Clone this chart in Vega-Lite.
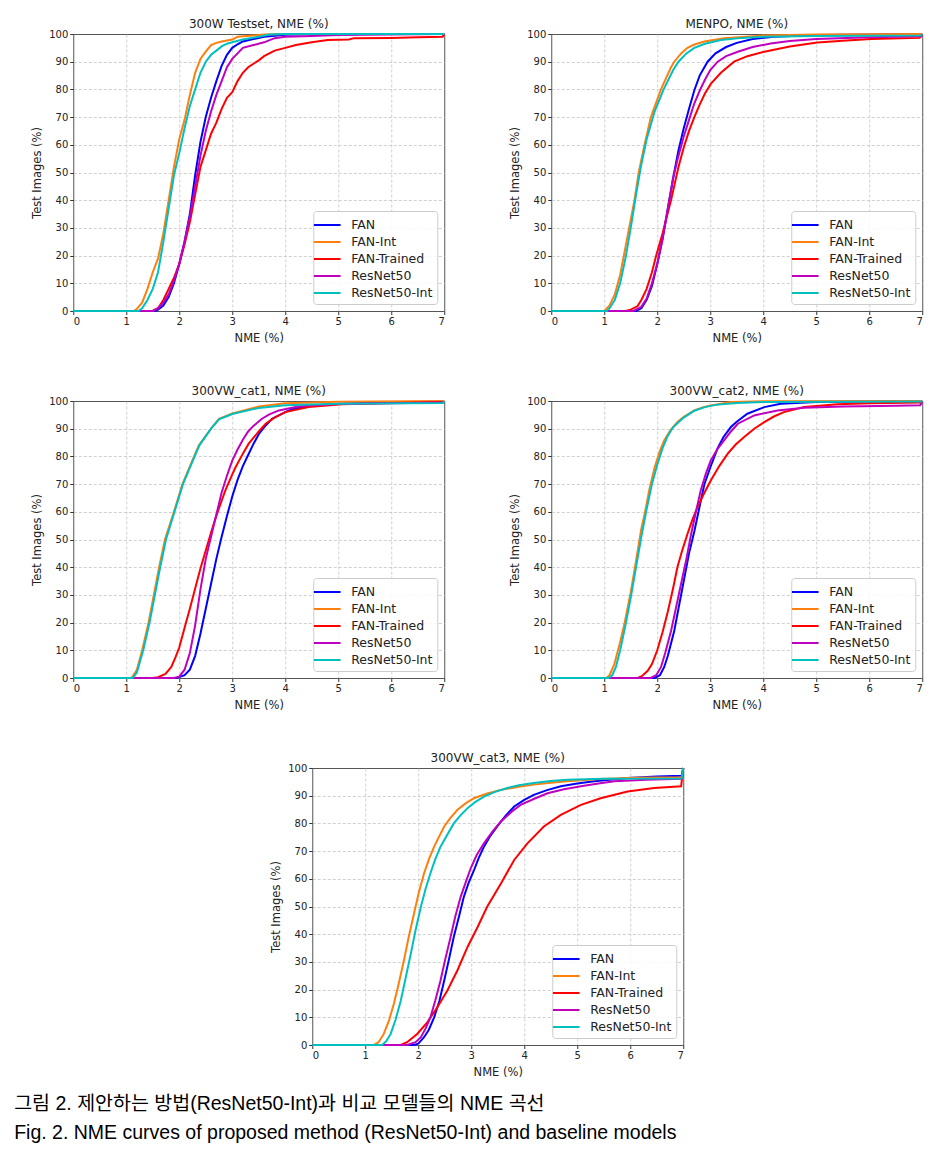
{
"$schema": "https://vega.github.io/schema/vega-lite/v6.json",
"padding": {"left": 14, "top": 17, "right": 5, "bottom": 5},
"background": "white",
"config": {
 "font": "DejaVu Sans",
 "view": {"stroke": "#555555", "strokeWidth": 1},
 "axis": {"labelFont": "DejaVu Sans", "labelFontSize": 10, "labelColor": "#222222", "titleFont": "DejaVu Sans", "titleFontSize": 11.5, "titleFontWeight": "normal", "titleColor": "#222222", "domain": false, "tickColor": "#333333", "tickSize": 3.5, "labelPadding": 2, "gridColor": "#c4c4c4", "gridDash": [3, 2], "gridWidth": 0.8},
 "axisX": {"titlePadding": 6},
 "axisY": {"titlePadding": 6},
 "title": {"font": "DejaVu Sans", "fontSize": 12, "fontWeight": "normal", "color": "#222222", "offset": -2},
 "legend": {"orient": "bottom-right", "offset": 7, "padding": 4, "strokeColor": "#cccccc", "fillColor": "rgba(255,255,255,0.85)", "cornerRadius": 3, "symbolType": "M-1.48,0L1.48,0", "symbolSize": 324, "symbolStrokeWidth": 2, "labelFont": "DejaVu Sans", "labelFontSize": 12.5, "labelColor": "#222222", "labelOffset": 14, "rowPadding": 0},
 "line": {"strokeWidth": 2}
},
"title": {"text": ["그림 2. 제안하는 방법(ResNet50-Int)과 비교 모델들의 NME 곡선", "Fig. 2. NME curves of proposed method (ResNet50-Int) and baseline models"], "orient": "bottom", "anchor": "start", "font": "Liberation Sans, Noto Sans CJK KR", "fontSize": 19.5, "fontWeight": "normal", "color": "#000000", "lineHeight": 29, "offset": 16, "dx": -17},
"data": {"values": [
{"panel":"300W","model":"FAN","nme":0,"images":0},{"panel":"300W","model":"FAN","nme":1.55,"images":0},{"panel":"300W","model":"FAN","nme":1.6,"images":0.5},{"panel":"300W","model":"FAN","nme":1.7,"images":2},{"panel":"300W","model":"FAN","nme":1.8,"images":5},{"panel":"300W","model":"FAN","nme":1.9,"images":10},{"panel":"300W","model":"FAN","nme":2.0,"images":17},{"panel":"300W","model":"FAN","nme":2.1,"images":25},{"panel":"300W","model":"FAN","nme":2.2,"images":35},{"panel":"300W","model":"FAN","nme":2.3,"images":49},{"panel":"300W","model":"FAN","nme":2.4,"images":61},{"panel":"300W","model":"FAN","nme":2.5,"images":70},{"panel":"300W","model":"FAN","nme":2.6,"images":77},{"panel":"300W","model":"FAN","nme":2.7,"images":83},{"panel":"300W","model":"FAN","nme":2.8,"images":88.5},{"panel":"300W","model":"FAN","nme":2.9,"images":92.5},{"panel":"300W","model":"FAN","nme":3.0,"images":95},{"panel":"300W","model":"FAN","nme":3.1,"images":96.3},{"panel":"300W","model":"FAN","nme":3.2,"images":97.3},{"panel":"300W","model":"FAN","nme":3.4,"images":98.2},{"panel":"300W","model":"FAN","nme":3.6,"images":99},{"panel":"300W","model":"FAN","nme":4.0,"images":99.7},{"panel":"300W","model":"FAN","nme":4.5,"images":100},{"panel":"300W","model":"FAN","nme":7,"images":100},
{"panel":"300W","model":"FAN-Int","nme":0,"images":0},{"panel":"300W","model":"FAN-Int","nme":1.15,"images":0},{"panel":"300W","model":"FAN-Int","nme":1.2,"images":0.8},{"panel":"300W","model":"FAN-Int","nme":1.3,"images":3},{"panel":"300W","model":"FAN-Int","nme":1.4,"images":8},{"panel":"300W","model":"FAN-Int","nme":1.5,"images":14},{"panel":"300W","model":"FAN-Int","nme":1.6,"images":19},{"panel":"300W","model":"FAN-Int","nme":1.7,"images":28},{"panel":"300W","model":"FAN-Int","nme":1.8,"images":40},{"panel":"300W","model":"FAN-Int","nme":1.9,"images":52},{"panel":"300W","model":"FAN-Int","nme":2.0,"images":62},{"panel":"300W","model":"FAN-Int","nme":2.1,"images":69},{"panel":"300W","model":"FAN-Int","nme":2.2,"images":78},{"panel":"300W","model":"FAN-Int","nme":2.3,"images":86},{"panel":"300W","model":"FAN-Int","nme":2.4,"images":91},{"panel":"300W","model":"FAN-Int","nme":2.5,"images":93.6},{"panel":"300W","model":"FAN-Int","nme":2.6,"images":96},{"panel":"300W","model":"FAN-Int","nme":2.7,"images":96.8},{"panel":"300W","model":"FAN-Int","nme":2.8,"images":97.3},{"panel":"300W","model":"FAN-Int","nme":3.0,"images":98},{"panel":"300W","model":"FAN-Int","nme":3.1,"images":99},{"panel":"300W","model":"FAN-Int","nme":3.6,"images":99.8},{"panel":"300W","model":"FAN-Int","nme":4.0,"images":100},{"panel":"300W","model":"FAN-Int","nme":7,"images":100},
{"panel":"300W","model":"FAN-Trained","nme":0,"images":0},{"panel":"300W","model":"FAN-Trained","nme":1.5,"images":0},{"panel":"300W","model":"FAN-Trained","nme":1.6,"images":1},{"panel":"300W","model":"FAN-Trained","nme":1.7,"images":4},{"panel":"300W","model":"FAN-Trained","nme":1.8,"images":8},{"panel":"300W","model":"FAN-Trained","nme":1.9,"images":12},{"panel":"300W","model":"FAN-Trained","nme":2.0,"images":17},{"panel":"300W","model":"FAN-Trained","nme":2.1,"images":24},{"panel":"300W","model":"FAN-Trained","nme":2.2,"images":32},{"panel":"300W","model":"FAN-Trained","nme":2.3,"images":42},{"panel":"300W","model":"FAN-Trained","nme":2.4,"images":52},{"panel":"300W","model":"FAN-Trained","nme":2.5,"images":58},{"panel":"300W","model":"FAN-Trained","nme":2.6,"images":64},{"panel":"300W","model":"FAN-Trained","nme":2.7,"images":68},{"panel":"300W","model":"FAN-Trained","nme":2.8,"images":73},{"panel":"300W","model":"FAN-Trained","nme":2.9,"images":77},{"panel":"300W","model":"FAN-Trained","nme":3.0,"images":79},{"panel":"300W","model":"FAN-Trained","nme":3.1,"images":83},{"panel":"300W","model":"FAN-Trained","nme":3.2,"images":86},{"panel":"300W","model":"FAN-Trained","nme":3.3,"images":88},{"panel":"300W","model":"FAN-Trained","nme":3.5,"images":90.5},{"panel":"300W","model":"FAN-Trained","nme":3.6,"images":92},{"panel":"300W","model":"FAN-Trained","nme":3.8,"images":94},{"panel":"300W","model":"FAN-Trained","nme":4.0,"images":95},{"panel":"300W","model":"FAN-Trained","nme":4.2,"images":96},{"panel":"300W","model":"FAN-Trained","nme":4.5,"images":97},{"panel":"300W","model":"FAN-Trained","nme":4.8,"images":97.8},{"panel":"300W","model":"FAN-Trained","nme":5.2,"images":98},{"panel":"300W","model":"FAN-Trained","nme":5.3,"images":98.5},{"panel":"300W","model":"FAN-Trained","nme":6.0,"images":98.6},{"panel":"300W","model":"FAN-Trained","nme":6.5,"images":98.8},{"panel":"300W","model":"FAN-Trained","nme":6.97,"images":99},{"panel":"300W","model":"FAN-Trained","nme":7,"images":100},
{"panel":"300W","model":"ResNet50","nme":0,"images":0},{"panel":"300W","model":"ResNet50","nme":1.5,"images":0},{"panel":"300W","model":"ResNet50","nme":1.6,"images":1},{"panel":"300W","model":"ResNet50","nme":1.7,"images":3},{"panel":"300W","model":"ResNet50","nme":1.8,"images":6},{"panel":"300W","model":"ResNet50","nme":1.9,"images":11},{"panel":"300W","model":"ResNet50","nme":2.0,"images":17},{"panel":"300W","model":"ResNet50","nme":2.1,"images":25},{"panel":"300W","model":"ResNet50","nme":2.2,"images":34},{"panel":"300W","model":"ResNet50","nme":2.3,"images":45},{"panel":"300W","model":"ResNet50","nme":2.4,"images":56},{"panel":"300W","model":"ResNet50","nme":2.5,"images":65},{"panel":"300W","model":"ResNet50","nme":2.6,"images":72},{"panel":"300W","model":"ResNet50","nme":2.7,"images":78},{"panel":"300W","model":"ResNet50","nme":2.8,"images":83},{"panel":"300W","model":"ResNet50","nme":2.9,"images":88},{"panel":"300W","model":"ResNet50","nme":3.0,"images":91},{"panel":"300W","model":"ResNet50","nme":3.1,"images":93},{"panel":"300W","model":"ResNet50","nme":3.2,"images":95},{"panel":"300W","model":"ResNet50","nme":3.4,"images":96},{"panel":"300W","model":"ResNet50","nme":3.6,"images":97},{"panel":"300W","model":"ResNet50","nme":3.8,"images":98.5},{"panel":"300W","model":"ResNet50","nme":4.0,"images":99},{"panel":"300W","model":"ResNet50","nme":4.5,"images":99.3},{"panel":"300W","model":"ResNet50","nme":5.0,"images":99.6},{"panel":"300W","model":"ResNet50","nme":7,"images":100},
{"panel":"300W","model":"ResNet50-Int","nme":0,"images":0},{"panel":"300W","model":"ResNet50-Int","nme":1.23,"images":0},{"panel":"300W","model":"ResNet50-Int","nme":1.3,"images":1},{"panel":"300W","model":"ResNet50-Int","nme":1.4,"images":4},{"panel":"300W","model":"ResNet50-Int","nme":1.5,"images":8},{"panel":"300W","model":"ResNet50-Int","nme":1.6,"images":14},{"panel":"300W","model":"ResNet50-Int","nme":1.7,"images":25},{"panel":"300W","model":"ResNet50-Int","nme":1.8,"images":37},{"panel":"300W","model":"ResNet50-Int","nme":1.9,"images":49},{"panel":"300W","model":"ResNet50-Int","nme":2.0,"images":57},{"panel":"300W","model":"ResNet50-Int","nme":2.1,"images":66},{"panel":"300W","model":"ResNet50-Int","nme":2.2,"images":74},{"panel":"300W","model":"ResNet50-Int","nme":2.3,"images":80},{"panel":"300W","model":"ResNet50-Int","nme":2.4,"images":86},{"panel":"300W","model":"ResNet50-Int","nme":2.5,"images":90},{"panel":"300W","model":"ResNet50-Int","nme":2.6,"images":92.5},{"panel":"300W","model":"ResNet50-Int","nme":2.7,"images":94},{"panel":"300W","model":"ResNet50-Int","nme":2.8,"images":95.5},{"panel":"300W","model":"ResNet50-Int","nme":2.9,"images":96.5},{"panel":"300W","model":"ResNet50-Int","nme":3.0,"images":97},{"panel":"300W","model":"ResNet50-Int","nme":3.2,"images":98},{"panel":"300W","model":"ResNet50-Int","nme":3.5,"images":99},{"panel":"300W","model":"ResNet50-Int","nme":3.7,"images":99.8},{"panel":"300W","model":"ResNet50-Int","nme":4.0,"images":100},{"panel":"300W","model":"ResNet50-Int","nme":7,"images":100},

{"panel":"MENPO","model":"FAN","nme":0,"images":0},{"panel":"MENPO","model":"FAN","nme":1.6,"images":0},{"panel":"MENPO","model":"FAN","nme":1.7,"images":1},{"panel":"MENPO","model":"FAN","nme":1.8,"images":4},{"panel":"MENPO","model":"FAN","nme":1.9,"images":9},{"panel":"MENPO","model":"FAN","nme":2.0,"images":17},{"panel":"MENPO","model":"FAN","nme":2.1,"images":26},{"panel":"MENPO","model":"FAN","nme":2.2,"images":37},{"panel":"MENPO","model":"FAN","nme":2.3,"images":48},{"panel":"MENPO","model":"FAN","nme":2.4,"images":58},{"panel":"MENPO","model":"FAN","nme":2.5,"images":66},{"panel":"MENPO","model":"FAN","nme":2.6,"images":73},{"panel":"MENPO","model":"FAN","nme":2.7,"images":79.7},{"panel":"MENPO","model":"FAN","nme":2.8,"images":85},{"panel":"MENPO","model":"FAN","nme":2.95,"images":90},{"panel":"MENPO","model":"FAN","nme":3.1,"images":93},{"panel":"MENPO","model":"FAN","nme":3.3,"images":95.3},{"panel":"MENPO","model":"FAN","nme":3.5,"images":96.8},{"panel":"MENPO","model":"FAN","nme":3.8,"images":98.2},{"panel":"MENPO","model":"FAN","nme":4.2,"images":99},{"panel":"MENPO","model":"FAN","nme":5.0,"images":99.6},{"panel":"MENPO","model":"FAN","nme":7,"images":100},
{"panel":"MENPO","model":"FAN-Int","nme":0,"images":0},{"panel":"MENPO","model":"FAN-Int","nme":1.0,"images":0},{"panel":"MENPO","model":"FAN-Int","nme":1.1,"images":2},{"panel":"MENPO","model":"FAN-Int","nme":1.2,"images":6},{"panel":"MENPO","model":"FAN-Int","nme":1.3,"images":13},{"panel":"MENPO","model":"FAN-Int","nme":1.4,"images":23},{"panel":"MENPO","model":"FAN-Int","nme":1.5,"images":33},{"panel":"MENPO","model":"FAN-Int","nme":1.57,"images":40},{"panel":"MENPO","model":"FAN-Int","nme":1.65,"images":50},{"panel":"MENPO","model":"FAN-Int","nme":1.76,"images":60},{"panel":"MENPO","model":"FAN-Int","nme":1.88,"images":70},{"panel":"MENPO","model":"FAN-Int","nme":2.07,"images":80},{"panel":"MENPO","model":"FAN-Int","nme":2.26,"images":88},{"panel":"MENPO","model":"FAN-Int","nme":2.32,"images":90},{"panel":"MENPO","model":"FAN-Int","nme":2.45,"images":93},{"panel":"MENPO","model":"FAN-Int","nme":2.57,"images":95},{"panel":"MENPO","model":"FAN-Int","nme":2.7,"images":96.2},{"panel":"MENPO","model":"FAN-Int","nme":2.89,"images":97.3},{"panel":"MENPO","model":"FAN-Int","nme":3.26,"images":98.5},{"panel":"MENPO","model":"FAN-Int","nme":4.0,"images":99.5},{"panel":"MENPO","model":"FAN-Int","nme":5.0,"images":99.8},{"panel":"MENPO","model":"FAN-Int","nme":7,"images":100},
{"panel":"MENPO","model":"FAN-Trained","nme":0,"images":0},{"panel":"MENPO","model":"FAN-Trained","nme":1.4,"images":0},{"panel":"MENPO","model":"FAN-Trained","nme":1.5,"images":0.5},{"panel":"MENPO","model":"FAN-Trained","nme":1.63,"images":1.8},{"panel":"MENPO","model":"FAN-Trained","nme":1.7,"images":4},{"panel":"MENPO","model":"FAN-Trained","nme":1.8,"images":8},{"panel":"MENPO","model":"FAN-Trained","nme":1.9,"images":14},{"panel":"MENPO","model":"FAN-Trained","nme":1.98,"images":20},{"panel":"MENPO","model":"FAN-Trained","nme":2.1,"images":28},{"panel":"MENPO","model":"FAN-Trained","nme":2.26,"images":40},{"panel":"MENPO","model":"FAN-Trained","nme":2.4,"images":52},{"panel":"MENPO","model":"FAN-Trained","nme":2.5,"images":59},{"panel":"MENPO","model":"FAN-Trained","nme":2.6,"images":65},{"panel":"MENPO","model":"FAN-Trained","nme":2.7,"images":70},{"panel":"MENPO","model":"FAN-Trained","nme":2.8,"images":74.5},{"panel":"MENPO","model":"FAN-Trained","nme":2.9,"images":78.5},{"panel":"MENPO","model":"FAN-Trained","nme":3.01,"images":82},{"panel":"MENPO","model":"FAN-Trained","nme":3.2,"images":86},{"panel":"MENPO","model":"FAN-Trained","nme":3.45,"images":90},{"panel":"MENPO","model":"FAN-Trained","nme":3.7,"images":92},{"panel":"MENPO","model":"FAN-Trained","nme":4.02,"images":93.6},{"panel":"MENPO","model":"FAN-Trained","nme":4.5,"images":95.5},{"panel":"MENPO","model":"FAN-Trained","nme":5.02,"images":96.9},{"panel":"MENPO","model":"FAN-Trained","nme":5.5,"images":97.6},{"panel":"MENPO","model":"FAN-Trained","nme":6.03,"images":98.2},{"panel":"MENPO","model":"FAN-Trained","nme":6.95,"images":98.6},{"panel":"MENPO","model":"FAN-Trained","nme":7,"images":99.6},
{"panel":"MENPO","model":"ResNet50","nme":0,"images":0},{"panel":"MENPO","model":"ResNet50","nme":1.55,"images":0},{"panel":"MENPO","model":"ResNet50","nme":1.7,"images":1.5},{"panel":"MENPO","model":"ResNet50","nme":1.8,"images":4.5},{"panel":"MENPO","model":"ResNet50","nme":1.9,"images":10},{"panel":"MENPO","model":"ResNet50","nme":2.0,"images":17},{"panel":"MENPO","model":"ResNet50","nme":2.1,"images":26},{"panel":"MENPO","model":"ResNet50","nme":2.2,"images":37},{"panel":"MENPO","model":"ResNet50","nme":2.3,"images":48},{"panel":"MENPO","model":"ResNet50","nme":2.4,"images":56},{"panel":"MENPO","model":"ResNet50","nme":2.5,"images":63},{"panel":"MENPO","model":"ResNet50","nme":2.6,"images":69},{"panel":"MENPO","model":"ResNet50","nme":2.7,"images":75},{"panel":"MENPO","model":"ResNet50","nme":2.8,"images":79.5},{"panel":"MENPO","model":"ResNet50","nme":2.9,"images":83.5},{"panel":"MENPO","model":"ResNet50","nme":3.0,"images":87},{"panel":"MENPO","model":"ResNet50","nme":3.14,"images":90},{"panel":"MENPO","model":"ResNet50","nme":3.3,"images":92},{"panel":"MENPO","model":"ResNet50","nme":3.52,"images":93.6},{"panel":"MENPO","model":"ResNet50","nme":3.8,"images":95.3},{"panel":"MENPO","model":"ResNet50","nme":4.14,"images":96.6},{"panel":"MENPO","model":"ResNet50","nme":4.5,"images":97.5},{"panel":"MENPO","model":"ResNet50","nme":5.0,"images":98.2},{"panel":"MENPO","model":"ResNet50","nme":6.0,"images":98.8},{"panel":"MENPO","model":"ResNet50","nme":6.97,"images":99.2},{"panel":"MENPO","model":"ResNet50","nme":7,"images":100},
{"panel":"MENPO","model":"ResNet50-Int","nme":0,"images":0},{"panel":"MENPO","model":"ResNet50-Int","nme":1.05,"images":0},{"panel":"MENPO","model":"ResNet50-Int","nme":1.1,"images":1},{"panel":"MENPO","model":"ResNet50-Int","nme":1.2,"images":4},{"panel":"MENPO","model":"ResNet50-Int","nme":1.3,"images":10},{"panel":"MENPO","model":"ResNet50-Int","nme":1.4,"images":19},{"panel":"MENPO","model":"ResNet50-Int","nme":1.5,"images":30},{"panel":"MENPO","model":"ResNet50-Int","nme":1.6,"images":42},{"panel":"MENPO","model":"ResNet50-Int","nme":1.7,"images":53},{"panel":"MENPO","model":"ResNet50-Int","nme":1.8,"images":62},{"panel":"MENPO","model":"ResNet50-Int","nme":1.95,"images":72},{"panel":"MENPO","model":"ResNet50-Int","nme":2.12,"images":80},{"panel":"MENPO","model":"ResNet50-Int","nme":2.3,"images":87},{"panel":"MENPO","model":"ResNet50-Int","nme":2.4,"images":90},{"panel":"MENPO","model":"ResNet50-Int","nme":2.55,"images":93},{"panel":"MENPO","model":"ResNet50-Int","nme":2.7,"images":95},{"panel":"MENPO","model":"ResNet50-Int","nme":2.9,"images":96.5},{"panel":"MENPO","model":"ResNet50-Int","nme":3.2,"images":97.8},{"panel":"MENPO","model":"ResNet50-Int","nme":3.6,"images":98.6},{"panel":"MENPO","model":"ResNet50-Int","nme":4.0,"images":99},{"panel":"MENPO","model":"ResNet50-Int","nme":5.0,"images":99.3},{"panel":"MENPO","model":"ResNet50-Int","nme":6.97,"images":99.5},{"panel":"MENPO","model":"ResNet50-Int","nme":7,"images":100},

{"panel":"cat1","model":"FAN","nme":0,"images":0},{"panel":"cat1","model":"FAN","nme":1.95,"images":0},{"panel":"cat1","model":"FAN","nme":2.1,"images":1},{"panel":"cat1","model":"FAN","nme":2.2,"images":3},{"panel":"cat1","model":"FAN","nme":2.3,"images":8},{"panel":"cat1","model":"FAN","nme":2.4,"images":16},{"panel":"cat1","model":"FAN","nme":2.5,"images":25},{"panel":"cat1","model":"FAN","nme":2.6,"images":34},{"panel":"cat1","model":"FAN","nme":2.7,"images":43},{"panel":"cat1","model":"FAN","nme":2.8,"images":51},{"panel":"cat1","model":"FAN","nme":2.9,"images":58.5},{"panel":"cat1","model":"FAN","nme":3.0,"images":65.5},{"panel":"cat1","model":"FAN","nme":3.1,"images":71.5},{"panel":"cat1","model":"FAN","nme":3.2,"images":76.5},{"panel":"cat1","model":"FAN","nme":3.3,"images":80.5},{"panel":"cat1","model":"FAN","nme":3.4,"images":84.5},{"panel":"cat1","model":"FAN","nme":3.5,"images":88},{"panel":"cat1","model":"FAN","nme":3.6,"images":90.5},{"panel":"cat1","model":"FAN","nme":3.75,"images":93.6},{"panel":"cat1","model":"FAN","nme":4.0,"images":96},{"panel":"cat1","model":"FAN","nme":4.13,"images":97},{"panel":"cat1","model":"FAN","nme":4.5,"images":98.3},{"panel":"cat1","model":"FAN","nme":5.0,"images":99},{"panel":"cat1","model":"FAN","nme":6.0,"images":99.5},{"panel":"cat1","model":"FAN","nme":7,"images":99.8},
{"panel":"cat1","model":"FAN-Int","nme":0,"images":0},{"panel":"cat1","model":"FAN-Int","nme":1.1,"images":0},{"panel":"cat1","model":"FAN-Int","nme":1.2,"images":3},{"panel":"cat1","model":"FAN-Int","nme":1.3,"images":10},{"panel":"cat1","model":"FAN-Int","nme":1.42,"images":20},{"panel":"cat1","model":"FAN-Int","nme":1.52,"images":30},{"panel":"cat1","model":"FAN-Int","nme":1.62,"images":40},{"panel":"cat1","model":"FAN-Int","nme":1.73,"images":50},{"panel":"cat1","model":"FAN-Int","nme":1.9,"images":60},{"panel":"cat1","model":"FAN-Int","nme":2.06,"images":70},{"panel":"cat1","model":"FAN-Int","nme":2.28,"images":80},{"panel":"cat1","model":"FAN-Int","nme":2.37,"images":84},{"panel":"cat1","model":"FAN-Int","nme":2.6,"images":90},{"panel":"cat1","model":"FAN-Int","nme":2.75,"images":93.6},{"panel":"cat1","model":"FAN-Int","nme":3.0,"images":95.5},{"panel":"cat1","model":"FAN-Int","nme":3.5,"images":98},{"panel":"cat1","model":"FAN-Int","nme":4.0,"images":99.2},{"panel":"cat1","model":"FAN-Int","nme":5.0,"images":99.7},{"panel":"cat1","model":"FAN-Int","nme":7,"images":100},
{"panel":"cat1","model":"FAN-Trained","nme":0,"images":0},{"panel":"cat1","model":"FAN-Trained","nme":1.5,"images":0},{"panel":"cat1","model":"FAN-Trained","nme":1.6,"images":0.3},{"panel":"cat1","model":"FAN-Trained","nme":1.74,"images":1.5},{"panel":"cat1","model":"FAN-Trained","nme":1.85,"images":4},{"panel":"cat1","model":"FAN-Trained","nme":1.93,"images":7.5},{"panel":"cat1","model":"FAN-Trained","nme":2.0,"images":11},{"panel":"cat1","model":"FAN-Trained","nme":2.12,"images":19.5},{"panel":"cat1","model":"FAN-Trained","nme":2.2,"images":25},{"panel":"cat1","model":"FAN-Trained","nme":2.31,"images":33},{"panel":"cat1","model":"FAN-Trained","nme":2.4,"images":39.5},{"panel":"cat1","model":"FAN-Trained","nme":2.5,"images":46},{"panel":"cat1","model":"FAN-Trained","nme":2.6,"images":52.5},{"panel":"cat1","model":"FAN-Trained","nme":2.69,"images":58},{"panel":"cat1","model":"FAN-Trained","nme":2.8,"images":64},{"panel":"cat1","model":"FAN-Trained","nme":2.87,"images":67.7},{"panel":"cat1","model":"FAN-Trained","nme":3.0,"images":73.5},{"panel":"cat1","model":"FAN-Trained","nme":3.06,"images":76},{"panel":"cat1","model":"FAN-Trained","nme":3.2,"images":81},{"panel":"cat1","model":"FAN-Trained","nme":3.31,"images":84.6},{"panel":"cat1","model":"FAN-Trained","nme":3.5,"images":89},{"panel":"cat1","model":"FAN-Trained","nme":3.63,"images":91.8},{"panel":"cat1","model":"FAN-Trained","nme":3.8,"images":94},{"panel":"cat1","model":"FAN-Trained","nme":4.0,"images":96},{"panel":"cat1","model":"FAN-Trained","nme":4.44,"images":97.8},{"panel":"cat1","model":"FAN-Trained","nme":5.07,"images":98.8},{"panel":"cat1","model":"FAN-Trained","nme":6.0,"images":99.3},{"panel":"cat1","model":"FAN-Trained","nme":7,"images":99.6},
{"panel":"cat1","model":"ResNet50","nme":0,"images":0},{"panel":"cat1","model":"ResNet50","nme":1.9,"images":0},{"panel":"cat1","model":"ResNet50","nme":2.0,"images":0.5},{"panel":"cat1","model":"ResNet50","nme":2.1,"images":3},{"panel":"cat1","model":"ResNet50","nme":2.2,"images":9},{"panel":"cat1","model":"ResNet50","nme":2.3,"images":19},{"panel":"cat1","model":"ResNet50","nme":2.4,"images":32},{"panel":"cat1","model":"ResNet50","nme":2.5,"images":43},{"panel":"cat1","model":"ResNet50","nme":2.6,"images":51},{"panel":"cat1","model":"ResNet50","nme":2.7,"images":59},{"panel":"cat1","model":"ResNet50","nme":2.8,"images":67},{"panel":"cat1","model":"ResNet50","nme":2.9,"images":73},{"panel":"cat1","model":"ResNet50","nme":3.0,"images":78.5},{"panel":"cat1","model":"ResNet50","nme":3.1,"images":82.5},{"panel":"cat1","model":"ResNet50","nme":3.2,"images":86},{"panel":"cat1","model":"ResNet50","nme":3.3,"images":89},{"panel":"cat1","model":"ResNet50","nme":3.4,"images":91},{"panel":"cat1","model":"ResNet50","nme":3.56,"images":93.6},{"panel":"cat1","model":"ResNet50","nme":3.7,"images":95.2},{"panel":"cat1","model":"ResNet50","nme":3.88,"images":96.6},{"panel":"cat1","model":"ResNet50","nme":4.2,"images":97.8},{"panel":"cat1","model":"ResNet50","nme":4.44,"images":98.4},{"panel":"cat1","model":"ResNet50","nme":5.0,"images":98.9},{"panel":"cat1","model":"ResNet50","nme":6.0,"images":99.2},{"panel":"cat1","model":"ResNet50","nme":7,"images":99.5},
{"panel":"cat1","model":"ResNet50-Int","nme":0,"images":0},{"panel":"cat1","model":"ResNet50-Int","nme":1.12,"images":0},{"panel":"cat1","model":"ResNet50-Int","nme":1.2,"images":2},{"panel":"cat1","model":"ResNet50-Int","nme":1.32,"images":10},{"panel":"cat1","model":"ResNet50-Int","nme":1.44,"images":20},{"panel":"cat1","model":"ResNet50-Int","nme":1.54,"images":30},{"panel":"cat1","model":"ResNet50-Int","nme":1.64,"images":40},{"panel":"cat1","model":"ResNet50-Int","nme":1.75,"images":50},{"panel":"cat1","model":"ResNet50-Int","nme":1.91,"images":60},{"panel":"cat1","model":"ResNet50-Int","nme":2.07,"images":70},{"panel":"cat1","model":"ResNet50-Int","nme":2.29,"images":80},{"panel":"cat1","model":"ResNet50-Int","nme":2.38,"images":84},{"panel":"cat1","model":"ResNet50-Int","nme":2.6,"images":90},{"panel":"cat1","model":"ResNet50-Int","nme":2.75,"images":93.4},{"panel":"cat1","model":"ResNet50-Int","nme":3.0,"images":95.3},{"panel":"cat1","model":"ResNet50-Int","nme":3.5,"images":97.5},{"panel":"cat1","model":"ResNet50-Int","nme":4.0,"images":98.5},{"panel":"cat1","model":"ResNet50-Int","nme":5.0,"images":99},{"panel":"cat1","model":"ResNet50-Int","nme":6.97,"images":99.3},{"panel":"cat1","model":"ResNet50-Int","nme":7,"images":100},

{"panel":"cat2","model":"FAN","nme":0,"images":0},{"panel":"cat2","model":"FAN","nme":1.95,"images":0},{"panel":"cat2","model":"FAN","nme":2.05,"images":1},{"panel":"cat2","model":"FAN","nme":2.13,"images":3.9},{"panel":"cat2","model":"FAN","nme":2.2,"images":8},{"panel":"cat2","model":"FAN","nme":2.32,"images":17},{"panel":"cat2","model":"FAN","nme":2.4,"images":25},{"panel":"cat2","model":"FAN","nme":2.51,"images":36},{"panel":"cat2","model":"FAN","nme":2.6,"images":45},{"panel":"cat2","model":"FAN","nme":2.7,"images":53},{"panel":"cat2","model":"FAN","nme":2.8,"images":62},{"panel":"cat2","model":"FAN","nme":2.89,"images":70},{"panel":"cat2","model":"FAN","nme":3.0,"images":76},{"panel":"cat2","model":"FAN","nme":3.14,"images":83},{"panel":"cat2","model":"FAN","nme":3.25,"images":87},{"panel":"cat2","model":"FAN","nme":3.39,"images":90.6},{"panel":"cat2","model":"FAN","nme":3.5,"images":92.5},{"panel":"cat2","model":"FAN","nme":3.7,"images":95.4},{"panel":"cat2","model":"FAN","nme":4.02,"images":97.8},{"panel":"cat2","model":"FAN","nme":4.33,"images":99},{"panel":"cat2","model":"FAN","nme":5.0,"images":99.6},{"panel":"cat2","model":"FAN","nme":7,"images":100},
{"panel":"cat2","model":"FAN-Int","nme":0,"images":0},{"panel":"cat2","model":"FAN-Int","nme":1.04,"images":0},{"panel":"cat2","model":"FAN-Int","nme":1.1,"images":1},{"panel":"cat2","model":"FAN-Int","nme":1.19,"images":5},{"panel":"cat2","model":"FAN-Int","nme":1.3,"images":13},{"panel":"cat2","model":"FAN-Int","nme":1.38,"images":19.5},{"panel":"cat2","model":"FAN-Int","nme":1.5,"images":31},{"panel":"cat2","model":"FAN-Int","nme":1.57,"images":38.8},{"panel":"cat2","model":"FAN-Int","nme":1.7,"images":54},{"panel":"cat2","model":"FAN-Int","nme":1.76,"images":59},{"panel":"cat2","model":"FAN-Int","nme":1.85,"images":68},{"panel":"cat2","model":"FAN-Int","nme":1.95,"images":76},{"panel":"cat2","model":"FAN-Int","nme":2.05,"images":82},{"panel":"cat2","model":"FAN-Int","nme":2.13,"images":85.8},{"panel":"cat2","model":"FAN-Int","nme":2.25,"images":89.5},{"panel":"cat2","model":"FAN-Int","nme":2.38,"images":92.4},{"panel":"cat2","model":"FAN-Int","nme":2.5,"images":94.3},{"panel":"cat2","model":"FAN-Int","nme":2.7,"images":96.6},{"panel":"cat2","model":"FAN-Int","nme":2.85,"images":97.7},{"panel":"cat2","model":"FAN-Int","nme":3.01,"images":98.4},{"panel":"cat2","model":"FAN-Int","nme":3.39,"images":99.6},{"panel":"cat2","model":"FAN-Int","nme":4.0,"images":99.9},{"panel":"cat2","model":"FAN-Int","nme":7,"images":100},
{"panel":"cat2","model":"FAN-Trained","nme":0,"images":0},{"panel":"cat2","model":"FAN-Trained","nme":1.63,"images":0},{"panel":"cat2","model":"FAN-Trained","nme":1.72,"images":0.8},{"panel":"cat2","model":"FAN-Trained","nme":1.82,"images":2.6},{"panel":"cat2","model":"FAN-Trained","nme":1.9,"images":5},{"panel":"cat2","model":"FAN-Trained","nme":2.0,"images":10},{"panel":"cat2","model":"FAN-Trained","nme":2.1,"images":16.5},{"panel":"cat2","model":"FAN-Trained","nme":2.2,"images":24},{"panel":"cat2","model":"FAN-Trained","nme":2.3,"images":32.5},{"panel":"cat2","model":"FAN-Trained","nme":2.38,"images":40},{"panel":"cat2","model":"FAN-Trained","nme":2.47,"images":46},{"panel":"cat2","model":"FAN-Trained","nme":2.57,"images":52},{"panel":"cat2","model":"FAN-Trained","nme":2.66,"images":57},{"panel":"cat2","model":"FAN-Trained","nme":2.76,"images":61.7},{"panel":"cat2","model":"FAN-Trained","nme":2.88,"images":66.5},{"panel":"cat2","model":"FAN-Trained","nme":3.01,"images":71.3},{"panel":"cat2","model":"FAN-Trained","nme":3.17,"images":76.5},{"panel":"cat2","model":"FAN-Trained","nme":3.33,"images":81},{"panel":"cat2","model":"FAN-Trained","nme":3.48,"images":84.3},{"panel":"cat2","model":"FAN-Trained","nme":3.64,"images":87},{"panel":"cat2","model":"FAN-Trained","nme":3.83,"images":90},{"panel":"cat2","model":"FAN-Trained","nme":4.02,"images":92.4},{"panel":"cat2","model":"FAN-Trained","nme":4.2,"images":94.4},{"panel":"cat2","model":"FAN-Trained","nme":4.39,"images":96},{"panel":"cat2","model":"FAN-Trained","nme":4.77,"images":97.8},{"panel":"cat2","model":"FAN-Trained","nme":5.4,"images":98.8},{"panel":"cat2","model":"FAN-Trained","nme":6.0,"images":99.2},{"panel":"cat2","model":"FAN-Trained","nme":7,"images":99.5},
{"panel":"cat2","model":"ResNet50","nme":0,"images":0},{"panel":"cat2","model":"ResNet50","nme":1.88,"images":0},{"panel":"cat2","model":"ResNet50","nme":1.98,"images":1},{"panel":"cat2","model":"ResNet50","nme":2.07,"images":3.9},{"panel":"cat2","model":"ResNet50","nme":2.15,"images":9},{"panel":"cat2","model":"ResNet50","nme":2.26,"images":17},{"panel":"cat2","model":"ResNet50","nme":2.35,"images":25},{"panel":"cat2","model":"ResNet50","nme":2.45,"images":34},{"panel":"cat2","model":"ResNet50","nme":2.55,"images":43},{"panel":"cat2","model":"ResNet50","nme":2.64,"images":52},{"panel":"cat2","model":"ResNet50","nme":2.73,"images":60},{"panel":"cat2","model":"ResNet50","nme":2.82,"images":67.7},{"panel":"cat2","model":"ResNet50","nme":2.92,"images":74},{"panel":"cat2","model":"ResNet50","nme":3.01,"images":78.5},{"panel":"cat2","model":"ResNet50","nme":3.13,"images":82.5},{"panel":"cat2","model":"ResNet50","nme":3.26,"images":85.8},{"panel":"cat2","model":"ResNet50","nme":3.39,"images":89},{"panel":"cat2","model":"ResNet50","nme":3.52,"images":91.8},{"panel":"cat2","model":"ResNet50","nme":3.83,"images":94.8},{"panel":"cat2","model":"ResNet50","nme":4.27,"images":96.6},{"panel":"cat2","model":"ResNet50","nme":4.77,"images":97.6},{"panel":"cat2","model":"ResNet50","nme":5.5,"images":98},{"panel":"cat2","model":"ResNet50","nme":6.5,"images":98.3},{"panel":"cat2","model":"ResNet50","nme":6.96,"images":98.5},{"panel":"cat2","model":"ResNet50","nme":7,"images":99.6},
{"panel":"cat2","model":"ResNet50-Int","nme":0,"images":0},{"panel":"cat2","model":"ResNet50-Int","nme":1.08,"images":0},{"panel":"cat2","model":"ResNet50-Int","nme":1.15,"images":1},{"panel":"cat2","model":"ResNet50-Int","nme":1.22,"images":4},{"panel":"cat2","model":"ResNet50-Int","nme":1.3,"images":10},{"panel":"cat2","model":"ResNet50-Int","nme":1.4,"images":19},{"panel":"cat2","model":"ResNet50-Int","nme":1.5,"images":29},{"panel":"cat2","model":"ResNet50-Int","nme":1.6,"images":40},{"panel":"cat2","model":"ResNet50-Int","nme":1.7,"images":51},{"panel":"cat2","model":"ResNet50-Int","nme":1.8,"images":61},{"panel":"cat2","model":"ResNet50-Int","nme":1.9,"images":70},{"panel":"cat2","model":"ResNet50-Int","nme":2.0,"images":77},{"panel":"cat2","model":"ResNet50-Int","nme":2.1,"images":83},{"panel":"cat2","model":"ResNet50-Int","nme":2.2,"images":87.5},{"panel":"cat2","model":"ResNet50-Int","nme":2.3,"images":90.5},{"panel":"cat2","model":"ResNet50-Int","nme":2.4,"images":92.3},{"panel":"cat2","model":"ResNet50-Int","nme":2.5,"images":94},{"panel":"cat2","model":"ResNet50-Int","nme":2.7,"images":96.5},{"panel":"cat2","model":"ResNet50-Int","nme":2.9,"images":97.8},{"panel":"cat2","model":"ResNet50-Int","nme":3.1,"images":98.6},{"panel":"cat2","model":"ResNet50-Int","nme":3.5,"images":99.3},{"panel":"cat2","model":"ResNet50-Int","nme":4.0,"images":99.6},{"panel":"cat2","model":"ResNet50-Int","nme":7,"images":99.8},

{"panel":"cat3","model":"FAN","nme":0,"images":0},{"panel":"cat3","model":"FAN","nme":1.92,"images":0},{"panel":"cat3","model":"FAN","nme":2.0,"images":0.5},{"panel":"cat3","model":"FAN","nme":2.11,"images":2.8},{"panel":"cat3","model":"FAN","nme":2.2,"images":5.5},{"panel":"cat3","model":"FAN","nme":2.3,"images":10},{"panel":"cat3","model":"FAN","nme":2.4,"images":16},{"panel":"cat3","model":"FAN","nme":2.49,"images":23.3},{"panel":"cat3","model":"FAN","nme":2.58,"images":31},{"panel":"cat3","model":"FAN","nme":2.67,"images":39},{"panel":"cat3","model":"FAN","nme":2.77,"images":46.5},{"panel":"cat3","model":"FAN","nme":2.86,"images":53.5},{"panel":"cat3","model":"FAN","nme":2.95,"images":58.5},{"panel":"cat3","model":"FAN","nme":3.05,"images":63},{"panel":"cat3","model":"FAN","nme":3.14,"images":67.5},{"panel":"cat3","model":"FAN","nme":3.24,"images":71.6},{"panel":"cat3","model":"FAN","nme":3.36,"images":75.5},{"panel":"cat3","model":"FAN","nme":3.49,"images":78.9},{"panel":"cat3","model":"FAN","nme":3.65,"images":82.8},{"panel":"cat3","model":"FAN","nme":3.81,"images":86.1},{"panel":"cat3","model":"FAN","nme":4.0,"images":88.5},{"panel":"cat3","model":"FAN","nme":4.18,"images":90.3},{"panel":"cat3","model":"FAN","nme":4.43,"images":92},{"panel":"cat3","model":"FAN","nme":4.69,"images":93.4},{"panel":"cat3","model":"FAN","nme":5.0,"images":94.4},{"panel":"cat3","model":"FAN","nme":5.32,"images":95.2},{"panel":"cat3","model":"FAN","nme":5.95,"images":96.4},{"panel":"cat3","model":"FAN","nme":6.5,"images":96.9},{"panel":"cat3","model":"FAN","nme":6.97,"images":97.2},{"panel":"cat3","model":"FAN","nme":7,"images":100},
{"panel":"cat3","model":"FAN-Int","nme":0,"images":0},{"panel":"cat3","model":"FAN-Int","nme":1.16,"images":0},{"panel":"cat3","model":"FAN-Int","nme":1.25,"images":1},{"panel":"cat3","model":"FAN-Int","nme":1.35,"images":4},{"panel":"cat3","model":"FAN-Int","nme":1.45,"images":9},{"panel":"cat3","model":"FAN-Int","nme":1.54,"images":14.9},{"panel":"cat3","model":"FAN-Int","nme":1.63,"images":22},{"panel":"cat3","model":"FAN-Int","nme":1.73,"images":30.6},{"panel":"cat3","model":"FAN-Int","nme":1.82,"images":39},{"panel":"cat3","model":"FAN-Int","nme":1.92,"images":47.5},{"panel":"cat3","model":"FAN-Int","nme":2.01,"images":55},{"panel":"cat3","model":"FAN-Int","nme":2.11,"images":62},{"panel":"cat3","model":"FAN-Int","nme":2.2,"images":67},{"panel":"cat3","model":"FAN-Int","nme":2.3,"images":71.6},{"panel":"cat3","model":"FAN-Int","nme":2.4,"images":75.5},{"panel":"cat3","model":"FAN-Int","nme":2.49,"images":78.9},{"panel":"cat3","model":"FAN-Int","nme":2.6,"images":81.8},{"panel":"cat3","model":"FAN-Int","nme":2.74,"images":84.9},{"panel":"cat3","model":"FAN-Int","nme":2.9,"images":87.3},{"panel":"cat3","model":"FAN-Int","nme":3.05,"images":89.1},{"panel":"cat3","model":"FAN-Int","nme":3.3,"images":90.8},{"panel":"cat3","model":"FAN-Int","nme":3.56,"images":92.1},{"panel":"cat3","model":"FAN-Int","nme":3.9,"images":93.2},{"panel":"cat3","model":"FAN-Int","nme":4.18,"images":94},{"panel":"cat3","model":"FAN-Int","nme":4.5,"images":94.7},{"panel":"cat3","model":"FAN-Int","nme":4.81,"images":95.2},{"panel":"cat3","model":"FAN-Int","nme":5.44,"images":96},{"panel":"cat3","model":"FAN-Int","nme":6.07,"images":96.5},{"panel":"cat3","model":"FAN-Int","nme":6.97,"images":96.7},{"panel":"cat3","model":"FAN-Int","nme":7,"images":100},
{"panel":"cat3","model":"FAN-Trained","nme":0,"images":0},{"panel":"cat3","model":"FAN-Trained","nme":1.67,"images":0},{"panel":"cat3","model":"FAN-Trained","nme":1.79,"images":1},{"panel":"cat3","model":"FAN-Trained","nme":1.98,"images":4},{"panel":"cat3","model":"FAN-Trained","nme":2.17,"images":8.2},{"panel":"cat3","model":"FAN-Trained","nme":2.36,"images":13.6},{"panel":"cat3","model":"FAN-Trained","nme":2.55,"images":19.7},{"panel":"cat3","model":"FAN-Trained","nme":2.74,"images":27},{"panel":"cat3","model":"FAN-Trained","nme":2.93,"images":35.4},{"panel":"cat3","model":"FAN-Trained","nme":3.12,"images":42.6},{"panel":"cat3","model":"FAN-Trained","nme":3.3,"images":49.9},{"panel":"cat3","model":"FAN-Trained","nme":3.56,"images":58.3},{"panel":"cat3","model":"FAN-Trained","nme":3.81,"images":66.8},{"panel":"cat3","model":"FAN-Trained","nme":4.06,"images":72.8},{"panel":"cat3","model":"FAN-Trained","nme":4.37,"images":78.9},{"panel":"cat3","model":"FAN-Trained","nme":4.69,"images":83.1},{"panel":"cat3","model":"FAN-Trained","nme":5.07,"images":86.7},{"panel":"cat3","model":"FAN-Trained","nme":5.44,"images":89.1},{"panel":"cat3","model":"FAN-Trained","nme":5.95,"images":91.5},{"panel":"cat3","model":"FAN-Trained","nme":6.45,"images":92.8},{"panel":"cat3","model":"FAN-Trained","nme":6.96,"images":93.4},{"panel":"cat3","model":"FAN-Trained","nme":7,"images":100},
{"panel":"cat3","model":"ResNet50","nme":0,"images":0},{"panel":"cat3","model":"ResNet50","nme":1.79,"images":0},{"panel":"cat3","model":"ResNet50","nme":1.95,"images":1},{"panel":"cat3","model":"ResNet50","nme":2.05,"images":2.8},{"panel":"cat3","model":"ResNet50","nme":2.14,"images":6},{"panel":"cat3","model":"ResNet50","nme":2.23,"images":10},{"panel":"cat3","model":"ResNet50","nme":2.32,"images":16},{"panel":"cat3","model":"ResNet50","nme":2.42,"images":23.3},{"panel":"cat3","model":"ResNet50","nme":2.51,"images":31},{"panel":"cat3","model":"ResNet50","nme":2.61,"images":39},{"panel":"cat3","model":"ResNet50","nme":2.7,"images":46.5},{"panel":"cat3","model":"ResNet50","nme":2.8,"images":53.5},{"panel":"cat3","model":"ResNet50","nme":2.9,"images":59},{"panel":"cat3","model":"ResNet50","nme":2.99,"images":63.8},{"panel":"cat3","model":"ResNet50","nme":3.1,"images":68.5},{"panel":"cat3","model":"ResNet50","nme":3.24,"images":72.8},{"panel":"cat3","model":"ResNet50","nme":3.4,"images":77},{"panel":"cat3","model":"ResNet50","nme":3.56,"images":80.7},{"panel":"cat3","model":"ResNet50","nme":3.75,"images":84},{"panel":"cat3","model":"ResNet50","nme":3.93,"images":86.7},{"panel":"cat3","model":"ResNet50","nme":4.2,"images":89},{"panel":"cat3","model":"ResNet50","nme":4.44,"images":90.9},{"panel":"cat3","model":"ResNet50","nme":4.75,"images":92.3},{"panel":"cat3","model":"ResNet50","nme":5.07,"images":93.4},{"panel":"cat3","model":"ResNet50","nme":5.4,"images":94.4},{"panel":"cat3","model":"ResNet50","nme":5.7,"images":95.2},{"panel":"cat3","model":"ResNet50","nme":6.3,"images":95.8},{"panel":"cat3","model":"ResNet50","nme":6.97,"images":96.1},{"panel":"cat3","model":"ResNet50","nme":7,"images":100},
{"panel":"cat3","model":"ResNet50-Int","nme":0,"images":0},{"panel":"cat3","model":"ResNet50-Int","nme":1.32,"images":0},{"panel":"cat3","model":"ResNet50-Int","nme":1.4,"images":1.5},{"panel":"cat3","model":"ResNet50-Int","nme":1.48,"images":4},{"panel":"cat3","model":"ResNet50-Int","nme":1.57,"images":9},{"panel":"cat3","model":"ResNet50-Int","nme":1.67,"images":16},{"panel":"cat3","model":"ResNet50-Int","nme":1.76,"images":24},{"panel":"cat3","model":"ResNet50-Int","nme":1.86,"images":33},{"panel":"cat3","model":"ResNet50-Int","nme":1.95,"images":41.5},{"panel":"cat3","model":"ResNet50-Int","nme":2.05,"images":49.9},{"panel":"cat3","model":"ResNet50-Int","nme":2.14,"images":56.5},{"panel":"cat3","model":"ResNet50-Int","nme":2.23,"images":62},{"panel":"cat3","model":"ResNet50-Int","nme":2.32,"images":67},{"panel":"cat3","model":"ResNet50-Int","nme":2.42,"images":71.6},{"panel":"cat3","model":"ResNet50-Int","nme":2.55,"images":76},{"panel":"cat3","model":"ResNet50-Int","nme":2.67,"images":80},{"panel":"cat3","model":"ResNet50-Int","nme":2.8,"images":83},{"panel":"cat3","model":"ResNet50-Int","nme":2.93,"images":85.5},{"panel":"cat3","model":"ResNet50-Int","nme":3.08,"images":87.8},{"panel":"cat3","model":"ResNet50-Int","nme":3.24,"images":89.7},{"panel":"cat3","model":"ResNet50-Int","nme":3.45,"images":91.4},{"panel":"cat3","model":"ResNet50-Int","nme":3.68,"images":92.8},{"panel":"cat3","model":"ResNet50-Int","nme":3.9,"images":93.8},{"panel":"cat3","model":"ResNet50-Int","nme":4.18,"images":94.6},{"panel":"cat3","model":"ResNet50-Int","nme":4.5,"images":95.3},{"panel":"cat3","model":"ResNet50-Int","nme":4.81,"images":95.8},{"panel":"cat3","model":"ResNet50-Int","nme":5.5,"images":96.1},{"panel":"cat3","model":"ResNet50-Int","nme":6.97,"images":96.2},{"panel":"cat3","model":"ResNet50-Int","nme":7,"images":100}
]},
"resolve": {"scale": {"color": "independent"}, "legend": {"color": "independent"}},
"center": true,
"spacing": 39,
"vconcat": [
 {"hconcat": [
  {"title": "300W Testset, NME (%)", "width": 371, "height": 277, "transform": [{"filter": "datum.panel === '300W'"}], "mark": {"type": "line", "strokeWidth": 2},
   "encoding": {"x": {"field": "nme", "type": "quantitative", "scale": {"domain": [0, 7], "nice": false}, "axis": {"values": [0,1,2,3,4,5,6,7], "title": "NME (%)", "gridOpacity": {"condition": {"test": "datum.value === 0 || datum.value === 7", "value": 0}, "value": 1}}}, "y": {"field": "images", "type": "quantitative", "scale": {"domain": [0, 100], "nice": false}, "axis": {"values": [0,10,20,30,40,50,60,70,80,90,100], "title": "Test Images (%)", "gridOpacity": {"condition": {"test": "datum.value === 0 || datum.value === 100", "value": 0}, "value": 1}}}, "color": {"field": "model", "type": "nominal", "scale": {"domain": ["FAN","FAN-Int","FAN-Trained","ResNet50","ResNet50-Int"], "range": ["#0000ff","#ff7f0e","#ff0000","#bf00bf","#00bfbf"]}, "legend": {"title": null}}}},
  {"title": "MENPO, NME (%)", "width": 371, "height": 277, "transform": [{"filter": "datum.panel === 'MENPO'"}], "mark": {"type": "line", "strokeWidth": 2},
   "encoding": {"x": {"field": "nme", "type": "quantitative", "scale": {"domain": [0, 7], "nice": false}, "axis": {"values": [0,1,2,3,4,5,6,7], "title": "NME (%)", "gridOpacity": {"condition": {"test": "datum.value === 0 || datum.value === 7", "value": 0}, "value": 1}}}, "y": {"field": "images", "type": "quantitative", "scale": {"domain": [0, 100], "nice": false}, "axis": {"values": [0,10,20,30,40,50,60,70,80,90,100], "title": "Test Images (%)", "gridOpacity": {"condition": {"test": "datum.value === 0 || datum.value === 100", "value": 0}, "value": 1}}}, "color": {"field": "model", "type": "nominal", "scale": {"domain": ["FAN","FAN-Int","FAN-Trained","ResNet50","ResNet50-Int"], "range": ["#0000ff","#ff7f0e","#ff0000","#bf00bf","#00bfbf"]}, "legend": {"title": null}}}}
 ], "spacing": 59, "resolve": {"scale": {"color": "independent"}, "legend": {"color": "independent"}}},
 {"hconcat": [
  {"title": "300VW_cat1, NME (%)", "width": 371, "height": 277, "transform": [{"filter": "datum.panel === 'cat1'"}], "mark": {"type": "line", "strokeWidth": 2},
   "encoding": {"x": {"field": "nme", "type": "quantitative", "scale": {"domain": [0, 7], "nice": false}, "axis": {"values": [0,1,2,3,4,5,6,7], "title": "NME (%)", "gridOpacity": {"condition": {"test": "datum.value === 0 || datum.value === 7", "value": 0}, "value": 1}}}, "y": {"field": "images", "type": "quantitative", "scale": {"domain": [0, 100], "nice": false}, "axis": {"values": [0,10,20,30,40,50,60,70,80,90,100], "title": "Test Images (%)", "gridOpacity": {"condition": {"test": "datum.value === 0 || datum.value === 100", "value": 0}, "value": 1}}}, "color": {"field": "model", "type": "nominal", "scale": {"domain": ["FAN","FAN-Int","FAN-Trained","ResNet50","ResNet50-Int"], "range": ["#0000ff","#ff7f0e","#ff0000","#bf00bf","#00bfbf"]}, "legend": {"title": null}}}},
  {"title": "300VW_cat2, NME (%)", "width": 371, "height": 277, "transform": [{"filter": "datum.panel === 'cat2'"}], "mark": {"type": "line", "strokeWidth": 2},
   "encoding": {"x": {"field": "nme", "type": "quantitative", "scale": {"domain": [0, 7], "nice": false}, "axis": {"values": [0,1,2,3,4,5,6,7], "title": "NME (%)", "gridOpacity": {"condition": {"test": "datum.value === 0 || datum.value === 7", "value": 0}, "value": 1}}}, "y": {"field": "images", "type": "quantitative", "scale": {"domain": [0, 100], "nice": false}, "axis": {"values": [0,10,20,30,40,50,60,70,80,90,100], "title": "Test Images (%)", "gridOpacity": {"condition": {"test": "datum.value === 0 || datum.value === 100", "value": 0}, "value": 1}}}, "color": {"field": "model", "type": "nominal", "scale": {"domain": ["FAN","FAN-Int","FAN-Trained","ResNet50","ResNet50-Int"], "range": ["#0000ff","#ff7f0e","#ff0000","#bf00bf","#00bfbf"]}, "legend": {"title": null}}}}
 ], "spacing": 59, "resolve": {"scale": {"color": "independent"}, "legend": {"color": "independent"}}},
 {"title": "300VW_cat3, NME (%)", "width": 371, "height": 277, "transform": [{"filter": "datum.panel === 'cat3'"}], "mark": {"type": "line", "strokeWidth": 2},
   "encoding": {"x": {"field": "nme", "type": "quantitative", "scale": {"domain": [0, 7], "nice": false}, "axis": {"values": [0,1,2,3,4,5,6,7], "title": "NME (%)", "gridOpacity": {"condition": {"test": "datum.value === 0 || datum.value === 7", "value": 0}, "value": 1}}}, "y": {"field": "images", "type": "quantitative", "scale": {"domain": [0, 100], "nice": false}, "axis": {"values": [0,10,20,30,40,50,60,70,80,90,100], "title": "Test Images (%)", "gridOpacity": {"condition": {"test": "datum.value === 0 || datum.value === 100", "value": 0}, "value": 1}}}, "color": {"field": "model", "type": "nominal", "scale": {"domain": ["FAN","FAN-Int","FAN-Trained","ResNet50","ResNet50-Int"], "range": ["#0000ff","#ff7f0e","#ff0000","#bf00bf","#00bfbf"]}, "legend": {"title": null}}}}
]
}
